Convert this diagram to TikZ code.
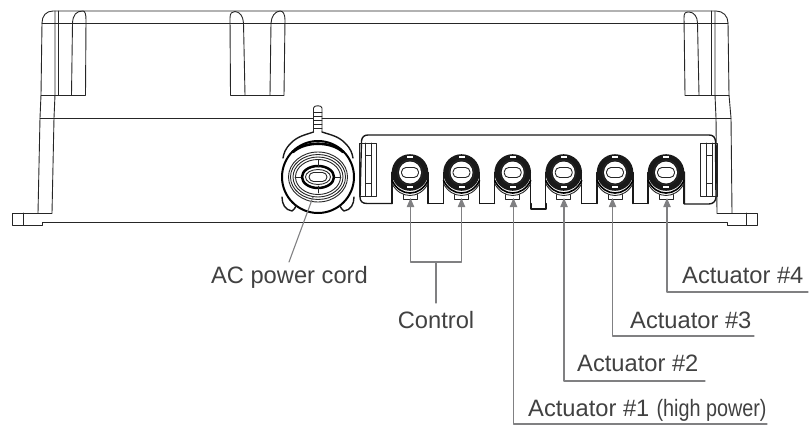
\documentclass[tikz,border=0pt]{standalone}
\usepackage{fontspec}
\setmainfont{Liberation Sans}
\usetikzlibrary{arrows}
\definecolor{leadgray}{RGB}{128,128,130}
\definecolor{textgray}{RGB}{65,65,65}
\tikzset{
  body/.style={line width=0.9pt,color=black!85},
  panel/.style={line width=1.4pt,color=black!90},
  lead/.style={line width=1.1pt,color=leadgray},
  label/.style={font=\fontsize{23.7}{28}\selectfont,text=textgray,inner sep=0pt}
}
\begin{document}
\begin{tikzpicture}[line cap=round,line join=round,>=triangle 45,x=1pt,y=-1pt]
\useasboundingbox (0,0) rectangle (810,425);
\draw[body] (42,23) .. controls (42,16) and (46,11) .. (53,11) -- (716,11) .. controls (723,11) and (728,16) .. (728,23);
\draw[body] (42,23) -- (728,23);
\draw[body] (42,23) -- (41,95) -- (40,118) -- (38,213);
\draw[body] (55,11) -- (55,95) -- (54,118) -- (52,213);
\draw[body] (58.5,11) -- (58.5,95);
\draw[body] (71.5,95) -- (72.5,23) .. controls (73,15) and (76,11) .. (83,11) .. controls (85,11) and (86,14) .. (86,20) -- (85.5,95);
\draw[body] (41,95) -- (85.5,95);
\draw[body] (230.5,95) -- (230,18) .. controls (230,13) and (232,11.5) .. (235,11.5) .. controls (240,12) and (243,16) .. (243.5,23) -- (245,95);
\draw[body] (230.5,95) -- (284,95);
\draw[body] (270,95) -- (271,23) .. controls (271.5,16) and (275,11.5) .. (280,11) .. controls (283,11) and (285,14) .. (285,20) -- (284,95);
\draw[body] (685,95) -- (684,18) .. controls (684,13) and (685,12) .. (689,12) .. controls (694,12) and (697.5,17) .. (697.5,23) -- (699,95);
\draw[body] (685,95) -- (729,95);
\draw[body] (711.7,11) -- (711.7,95);
\draw[body] (728,23) -- (729,95) -- (731,118) -- (732,213);
\draw[body] (715,11) -- (715,95) -- (716,118) -- (717,213);
\draw[body] (40,118) -- (313.5,118);
\draw[body] (322,118) -- (731,118);
\draw[body] (38,213) -- (12,213) -- (12,225) -- (42,225) -- (42,222.5) -- (727,222.5) -- (727,225.5) -- (757.5,225.5) -- (757.5,213) -- (717,213);
\draw[body] (38,213) -- (52,213);
\draw[body] (23.5,213) -- (23.5,225);
\draw[body] (746.5,213) -- (746.5,225.5);
\draw[panel] (392,172) -- (392,203.5) -- (367,203.5) .. controls (362,203.5) and (360,201) .. (360,197) -- (361.5,141) .. controls (362,137) and (364,135) .. (368,135) -- (709,135) .. controls (713,135) and (715,137) .. (715.5,141) -- (716,197) .. controls (716,201) and (713,204) .. (709,204) -- (684.3,204) -- (684.3,172);
\foreach \a/\b in {428.3/443.2,479.8/494.4,581.8/596.7,633.3/647.7}
\draw[panel] (\a,203.5) -- (\b,203.5);
\draw[panel] (530.8,203.5) -- (530.8,209) -- (546,209) -- (546,203.5);
\foreach \x in {410,461.5,512.7,563.7,615,666}{
\begin{scope}[shift={(\x,172.5)}]
\draw[panel] (-18,0) -- (-18,31);
\draw[panel] (18,0) -- (18,31);
\draw[line width=1.6pt] (-18,8) .. controls (-10,24.7) and (10,24.7) .. (18,8);
\draw[body] (-18,11) .. controls (-10,27) and (10,27) .. (18,11);
\fill[black!90] (0,0) circle (18.3);
\fill[white] (0,0) circle (11);
\draw[body] (0,0) circle (12.5);
\fill[white] (-3,-16.5) rectangle (3,-14.5);
\fill[white] (-3,13.5) rectangle (3,15.5);
\draw[body,rounded corners=4.5] (-8.5,-5) rectangle (8.5,5);
\draw[body] (-7,22) -- (-7,26.5) -- (7,26.5) -- (7,22);
\end{scope}
}
\foreach \x in {0,341}{
\begin{scope}[shift={(\x,0)}]
\draw[body] (359.5,143) rectangle (376,196);
\draw[body] (365.5,143) -- (365.5,196);
\draw[body] (371.5,143) -- (371.5,196);
\draw[body] (365.5,155) -- (371.5,155);
\draw[body] (365.5,183) -- (371.5,183);
\end{scope}
}
\draw[panel] (313.5,132) .. controls (305,135) and (298,136) .. (291,143) .. controls (285,149) and (284,153) .. (283,158);
\draw[panel] (322,132) .. controls (331,135) and (338,136) .. (345,143) .. controls (351,149) and (352,153) .. (353,158);
\draw[body] (313.5,132) -- (313.5,108) .. controls (313.5,105) and (322,105) .. (322,108) -- (322,132);
\foreach \y in {112,116,120,124,128}
\draw[body] (313.5,\y) -- (322,\y);
\draw[line width=2pt] (318,177) circle (36);
\draw[line width=2.6pt] (293,152) .. controls (305,141) and (331,141) .. (343,152);
\draw[panel] (282,197) .. controls (282,204) and (285,210) .. (292,211) .. controls (294,210) and (295,208) .. (296,206);
\draw[panel] (354,197) .. controls (354,204) and (351,210) .. (344,211) .. controls (342,210) and (341,208) .. (340,206);
\draw[body] (318,177) ellipse (29.5 and 25);
\draw[body] (318,177) ellipse (27.5 and 22.5);
\draw[body] (318,177) ellipse (25 and 20);
\draw[body] (318,177) ellipse (22.5 and 17.5);
\draw[line width=2.5pt] (318,177) ellipse (16 and 11);
\draw[body] (318,177) ellipse (12.5 and 7.5);
\draw[body,rounded corners=4.5] (309,172.5) rectangle (327,181.5);
\foreach \x/\y/\u/\v in {318/160/318/167,318/186/318/193,295/177/301/177,335/177/341/177}
\draw[body] (\x,\y) -- (\u,\v);
\node[label,anchor=base east] (cord) at (368,283) {AC power cord};
\node[label,anchor=base] (control) at (436,328) {Control};
\node[label,anchor=base west] (act1) at (528,416) {Actuator \#1\hspace{0.3em}\scalebox{0.835}[1]{(high power)}};
\node[label,anchor=base west] (act2) at (577,371) {Actuator \#2};
\node[label,anchor=base west] (act3) at (630,328) {Actuator \#3};
\node[label,anchor=base west] (act4) at (682,283) {Actuator \#4};
\coordinate (cordtip) at (313,197);
\coordinate (cordend) at (289,262);
\draw[lead] (cordend) -- (cordtip);
\coordinate (ctrlend) at (436,303);
\coordinate (ctrlmid) at (436,262);
\coordinate (ctrlL) at (410.5,262);
\coordinate (ctrlR) at (461.5,262);
\coordinate (ctrlLtip) at (410.5,198);
\coordinate (ctrlRtip) at (461.5,198);
\draw[lead] (ctrlend) -- (ctrlmid);
\draw[lead,->] (ctrlmid) -- (ctrlL) -- (ctrlLtip);
\draw[lead,->] (ctrlmid) -- (ctrlR) -- (ctrlRtip);
\foreach \n/\x/\y/\e in {1/513.5/424/767,2/564/381/705,3/612.5/336/754,4/667/292/808}{
\coordinate (end\n) at (\e,\y);
\coordinate (bend\n) at (\x,\y);
\coordinate (tip\n) at (\x,198);
\draw[lead,->] (end\n) -- (bend\n) -- (tip\n);
}
\end{tikzpicture}
\end{document}
